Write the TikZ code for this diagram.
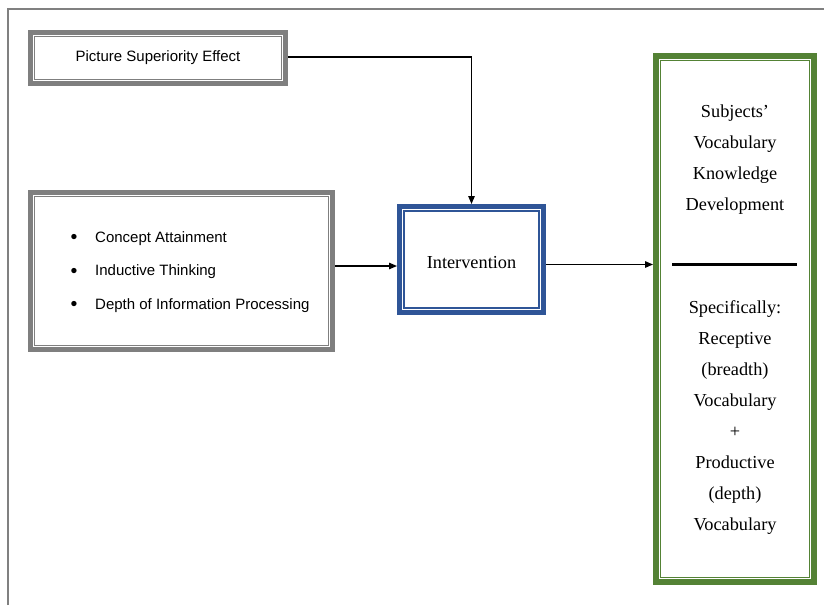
\documentclass[tikz,border=0pt]{standalone}
\usepackage{fontspec}
\setmainfont{Liberation Serif}
\newfontfamily\arialf{Liberation Sans}
\usetikzlibrary{arrows.meta,calc}
\definecolor{boxgray}{HTML}{7F7F7F}
\definecolor{boxblue}{HTML}{2F5597}
\definecolor{boxgreen}{HTML}{548235}
\definecolor{framegray}{HTML}{808080}
\tikzset{
  outerbox/.style={draw=#1, line width=5pt, fill=white, inner sep=0pt},
  innerline/.style={draw=#1, line width=1.3pt},
  sanstext/.style={font=\arialf\fontsize{15}{33.5}\selectfont, text=black},
  seriftext/.style={font=\fontsize{18.3}{31}\selectfont, text=black, align=center, inner sep=0pt},
  arr/.style={line width=1.3pt, -{Triangle[length=8pt,width=6.5pt]}},
}
\newcommand{\blt}{\makebox[25pt][l]{\hspace{0.5pt}\raisebox{-1.2pt}{\scalebox{1.3}{•}}}}
\begin{document}
\begin{tikzpicture}[x=1pt,y=-1pt]
\useasboundingbox (0,0) rectangle (824,605);
% page frame
\draw[framegray, line width=1.3pt] (8,605) -- (8,9) -- (824,9);

% boxes
\node[outerbox=boxgray, minimum width=255pt, minimum height=51pt] (pse) at (158,58) {};
\node[outerbox=boxgray, minimum width=302pt, minimum height=157pt] (bul) at (181.5,271) {};
\node[outerbox=boxblue, minimum width=144pt, minimum height=106pt] (int) at (471.5,259.5) {};
\node[outerbox=boxgreen, line width=6pt, minimum width=158pt, minimum height=526pt] (res) at (735,319) {};

\draw[innerline=boxgray] ($(pse.north west)+(6.3,6.3)$) rectangle ($(pse.south east)+(-6.3,-6.3)$);
\draw[innerline=boxgray] ($(bul.north west)+(6.3,6.3)$) rectangle ($(bul.south east)+(-6.3,-6.3)$);
\draw[innerline=boxblue] ($(int.north west)+(7,7)$) rectangle ($(int.south east)+(-7,-7)$);
\draw[innerline=boxgreen] ($(res.north west)+(7.5,7.5)$) rectangle ($(res.south east)+(-7.5,-7.5)$);

% texts
\node[sanstext] (psetext) at (158,58) {Picture Superiority Effect};
\node[sanstext, anchor=west, align=left, inner sep=0pt] (bultext) at (70,272)
  {\blt Concept Attainment\\
   \blt Inductive Thinking\\
   \blt Depth of Information Processing};
\node[seriftext] (inttext) at (471.5,263) {Intervention};
\node[seriftext] (restop) at (735,160) {Subjects’\\Vocabulary\\Knowledge\\Development};
\node[seriftext] (resbot) at (735,418) {Specifically:\\Receptive\\(breadth)\\Vocabulary\\+\\Productive\\(depth)\\Vocabulary};
\coordinate (sepL) at (672,264);
\coordinate (sepR) at (797,264);
\draw[line width=3pt, black] (sepL) -- (sepR);

% connectors
\coordinate (a1) at ($(pse.east)+(0,-1)$);
\draw[arr] (a1) -| (int.north);
\coordinate (a2) at ($(bul.east)+(0,-5)$);
\draw[arr] (a2) -- (a2 -| int.west);
\coordinate (a3) at ($(int.east)+(0,5)$);
\draw[arr] (a3) -- (a3 -| res.west);
\end{tikzpicture}
\end{document}
